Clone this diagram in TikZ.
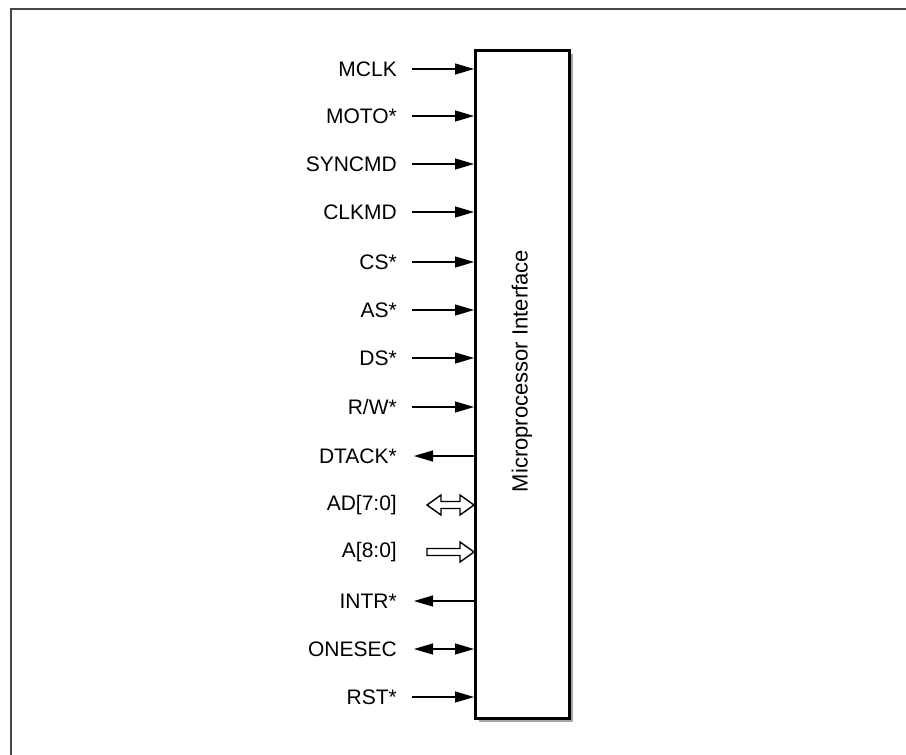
\documentclass[tikz,border=0pt]{standalone}
\usepackage{fontspec}
\setmainfont{Liberation Sans}
\usetikzlibrary{arrows.meta,calc}
\begin{document}
\begin{tikzpicture}[x=1pt,y=-1pt,
  lbl/.style={anchor=east,inner sep=0pt,font=\fontsize{21}{24}\selectfont},
  sig/.style={line width=1.3pt},
  tip/.style={-{Triangle[length=19pt,width=11pt]}},
  bus/.style={line width=1.4pt,fill=white,line join=miter}]
\useasboundingbox (0,0) rectangle (906,755);
% frame
\draw[line width=2pt,color=black!72] (11,755) -- (11,9) -- (906,9);
% shadow and box
\fill[black!35] (479,54) rectangle (573,722);
\node[draw,line width=2.8pt,fill=white,minimum width=94pt,minimum height=668pt,inner sep=0pt,anchor=north west] (box) at (474,49) {};
\node[rotate=90,inner sep=0pt,font=\fontsize{22}{25}\selectfont] (title) at (522,371) {Microprocessor Interface};
% labels and pins
\foreach \n/\t/\y in {1/MCLK/69,2/MOTO*/116,3/SYNCMD/164,4/CLKMD/212,5/CS*/262,6/AS*/310,7/DS*/358,8/R\slash W*/407,9/DTACK*/456,10/AD[7:0]/505,11/A[8:0]/552,12/INTR*/601,13/ONESEC/649,14/RST*/697}{
  \node[lbl] (l\n) at (397,\y) {\t};
  \coordinate (p\n) at (box.west |- 0,\y);
  \coordinate (s\n) at (412,\y);
}
\foreach \n in {1,2,3,4,5,6,7,8,14}{
  \draw[sig,tip] (s\n) -- (p\n);
}
\coordinate (d9) at (414,456);
\coordinate (d12) at (414,601);
\coordinate (d13) at (414,649);
\draw[sig,tip] (p9) -- (d9);
\draw[sig,tip] (p12) -- (d12);
\draw[sig,{Triangle[length=19pt,width=11pt]}-{Triangle[length=19pt,width=11pt]}] (d13) -- (p13);
% hollow bus arrows
\draw[bus] (p10) -- ++(-14,-10) -- ++(0,6.5) -- ++(-19,0) -- ++(0,-6.5) -- ++(-14,10) -- ++(14,10) -- ++(0,-6.5) -- ++(19,0) -- ++(0,6.5) -- cycle;
\draw[bus] (p11) -- ++(-14,-10) -- ++(0,6.5) -- ++(-33,0) -- ++(0,7) -- ++(33,0) -- ++(0,6.5) -- cycle;
\end{tikzpicture}
\end{document}
